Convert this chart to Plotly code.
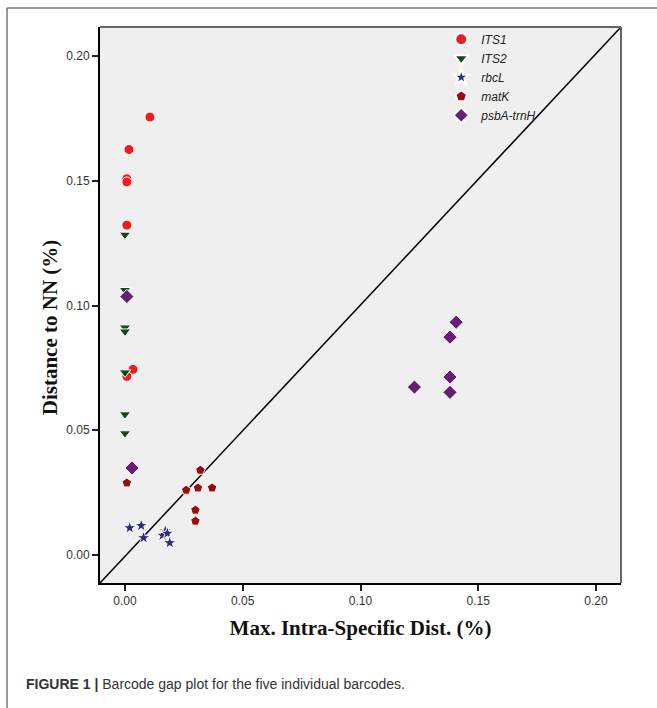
import plotly.graph_objects as go

# ---- data ----
its1_x = [0.0106, 0.0017, 0.0008, 0.0008, 0.0008, 0.0034, 0.0008]
its1_y = [0.1755, 0.1625, 0.1508, 0.1495, 0.1322, 0.0744, 0.0716]

its2_x = [0.0, 0.0, 0.0, 0.0, 0.0, 0.0, 0.0]
its2_y = [0.1284, 0.1062, 0.0912, 0.0896, 0.0732, 0.0564, 0.0488]

rbcl_x = [0.0020, 0.0069, 0.0079, 0.0171, 0.0160, 0.0180, 0.0190]
rbcl_y = [0.0109, 0.0118, 0.0069, 0.0096, 0.0079, 0.0087, 0.0049]

matk_x = [0.0008, 0.0320, 0.0260, 0.0310, 0.0370, 0.0299, 0.0299]
matk_y = [0.0289, 0.0340, 0.0260, 0.0269, 0.0269, 0.0180, 0.0136]

psba_x = [0.0008, 0.0030, 0.1406, 0.1380, 0.1380, 0.1380, 0.1229]
psba_y = [0.1036, 0.0349, 0.0933, 0.0873, 0.0713, 0.0652, 0.0673]

tick_vals = [0.0, 0.05, 0.10, 0.15, 0.20]
tick_text = ["0.00", "0.05", "0.10", "0.15", "0.20"]

x_range = [-0.0106, 0.2106]
y_range = [-0.0112, 0.2116]

series = [
    ("ITS1", its1_x, its1_y, "circle", "#EC1C24", 10),
    ("ITS2", its2_x, its2_y, "triangle-down", "#0E4A1C", 10),
    ("rbcL", rbcl_x, rbcl_y, "star", "#2A2C80", 10),
    ("matK", matk_x, matk_y, "pentagon", "#9A0B0B", 10),
    ("psbA-trnH", psba_x, psba_y, "diamond", "#6A1D78", 11),
]

fig = go.Figure()
for name, xs, ys, sym, col, sz in series:
    fig.add_trace(go.Scatter(
        x=xs, y=ys, mode="markers", name=name,
        marker=dict(symbol=sym, color=col, size=sz,
                    line=dict(color="white", width=1)),
    ))

axis_font = dict(family="Liberation Sans, Arial", size=12, color="#333333")
title_font = dict(family="Liberation Serif, Times New Roman", size=21, color="#111111")

fig.update_layout(
    width=657, height=708,
    margin=dict(l=100, r=36, t=27, b=125),
    paper_bgcolor="white",
    plot_bgcolor="#EFEFEF",
    showlegend=True,
    legend=dict(
        x=0.655, y=1.004, xanchor="left", yanchor="top",
        bgcolor="rgba(0,0,0,0)",
        font=dict(family="Liberation Sans, Arial", size=12, color="#222222", style="italic"),
        itemsizing="constant",
        tracegroupgap=0,
    ),
    xaxis=dict(
        range=x_range, tickvals=tick_vals, ticktext=tick_text,
        showgrid=False, zeroline=False,
        showline=True, linecolor="black", linewidth=2,
        ticks="outside", ticklen=6, tickwidth=1.5, tickcolor="#222222",
        tickfont=axis_font,
        title=dict(text="<b>Max. Intra-Specific Dist. (%)</b>", font=title_font, standoff=13),
    ),
    yaxis=dict(
        range=y_range, tickvals=tick_vals, ticktext=tick_text,
        showgrid=False, zeroline=False,
        showline=True, linecolor="black", linewidth=2,
        ticks="outside", ticklen=6, tickwidth=1.5, tickcolor="#222222",
        tickfont=axis_font,
    ),
)

# y-axis title placed as annotation (centred lower than plot centre, as in the original)
fig.add_annotation(
    xref="paper", yref="paper", x=-0.096, y=0.46, xanchor="center", yanchor="middle",
    text="<b>Distance to NN (%)</b>", textangle=-90, showarrow=False, font=title_font,
)

# gray box on top/right of plot area
fig.add_shape(type="line", xref="x domain", yref="y domain", x0=0, y0=1, x1=1, y1=1,
              line=dict(color="#666666", width=2))
fig.add_shape(type="line", xref="x domain", yref="y domain", x0=1, y0=0, x1=1, y1=1,
              line=dict(color="#666666", width=2))
# diagonal reference line, corner to corner
fig.add_shape(type="line", xref="x domain", yref="y domain", x0=0, y0=0, x1=1, y1=1,
              line=dict(color="black", width=1.5), layer="below")

# outer figure frame (left and top)
fig.add_shape(type="line", xref="paper", yref="paper", x0=-0.1785, y0=1.034, x1=-0.1785, y1=-0.23,
              line=dict(color="#777777", width=1.5))
fig.add_shape(type="line", xref="paper", yref="paper", x0=-0.1785, y0=1.034, x1=1.08, y1=1.034,
              line=dict(color="#777777", width=1.5))

# caption
fig.add_annotation(
    xref="paper", yref="paper", x=-0.145, y=-0.182, xanchor="left", yanchor="middle",
    text="<b>FIGURE 1 |</b> Barcode gap plot for the five individual barcodes.",
    showarrow=False,
    font=dict(family="Liberation Sans, Arial", size=14, color="#333333"),
)

fig.write_html("out.html")
